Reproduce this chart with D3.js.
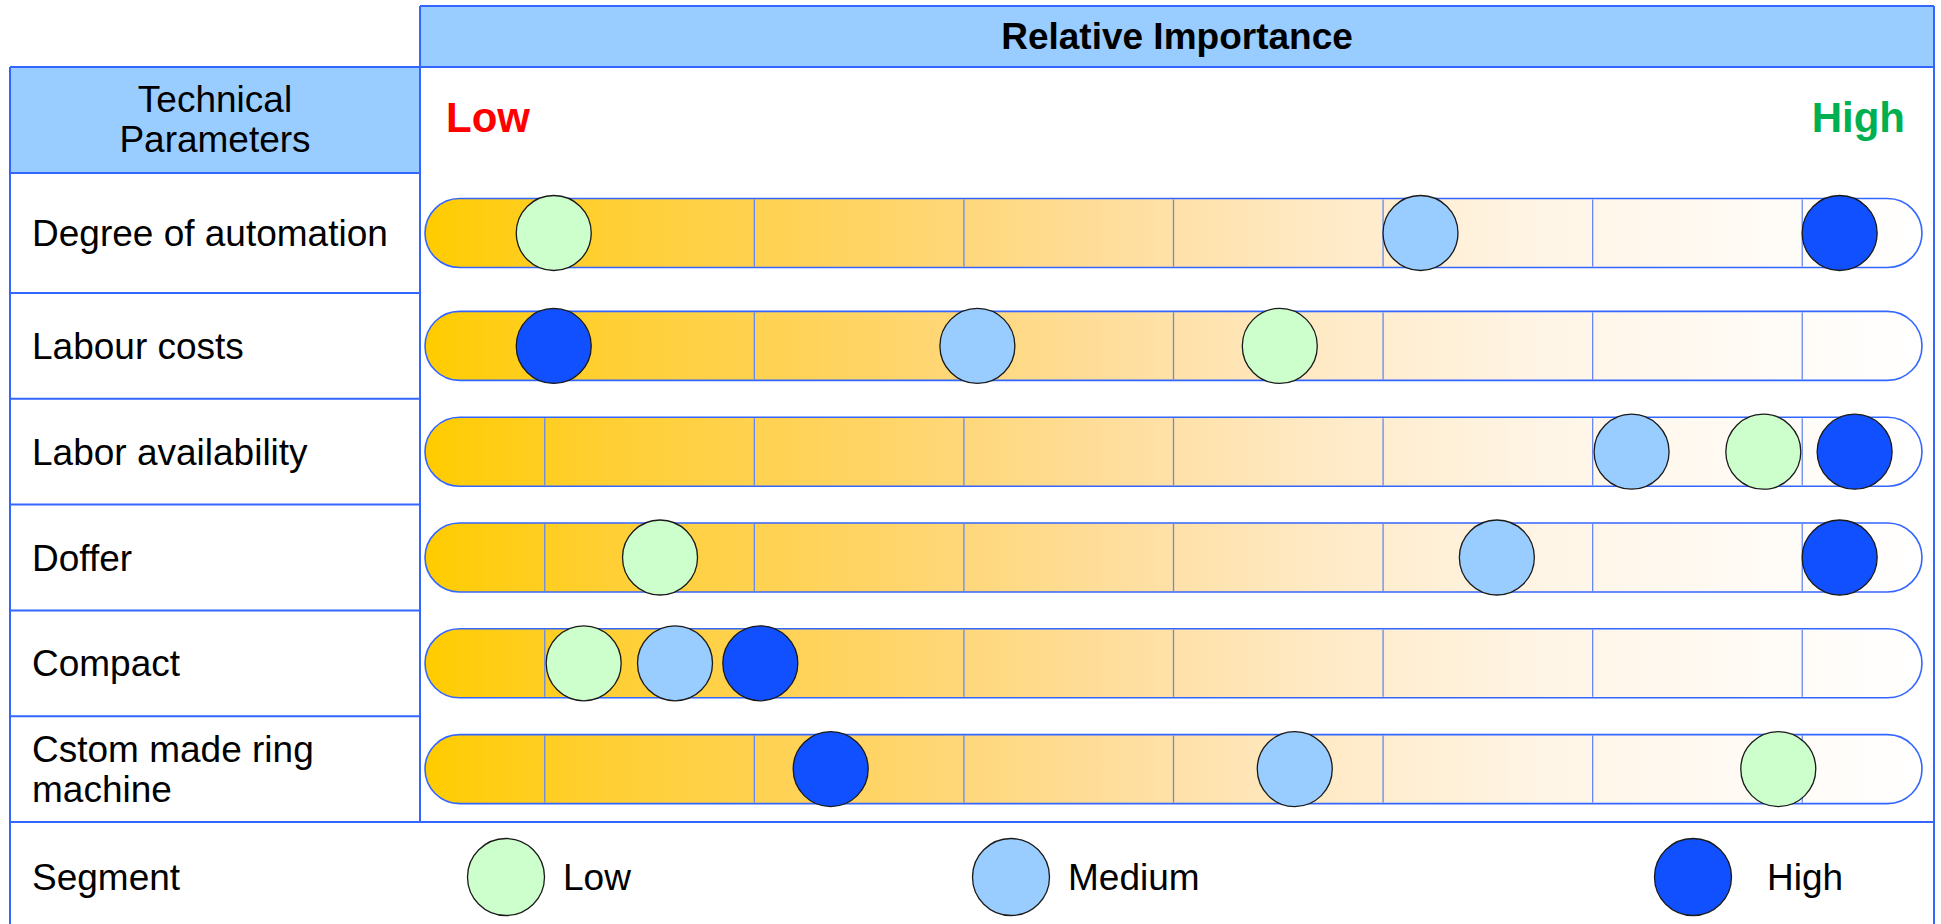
<!DOCTYPE html>
<html>
<head>
<meta charset="utf-8">
<script src="https://cdn.jsdelivr.net/npm/d3@7"></script>
<style>
  html, body { margin: 0; padding: 0; background: #ffffff; }
  svg { display: block; }
  text { font-family: "Liberation Sans", Arial, sans-serif; }
</style>
</head>
<body>
<svg id="chart" width="1941" height="924"></svg>
<script>
// Technical parameters (one row each)
const parameters = [
  "Degree of automation",
  "Labour costs",
  "Labor availability",
  "Doffer",
  "Compact",
  "Cstom made ring machine"
];

// Relative importance (0 = low, 100 = high) of each parameter per segment
const lowSegment    = [8.6, 57.1, 89.4, 15.7, 10.6, 90.4];
const mediumSegment = [66.5, 36.9, 80.6, 71.6, 16.7, 58.1];
const highSegment   = [94.5, 8.6, 95.5, 94.5, 22.4, 27.1];

// Segment names and their marker colours
const segmentNames  = ["Low", "Medium", "High"];
const segmentColors = ["#ccffcc", "#99ccff", "#1150ff"];

// Positions of the divider ticks along the importance scale
const dividerTicks = [8, 22, 36, 50, 64, 78, 92];

// ---- layout ----
const W = 1941, H = 924;
const tableLeft = 10, tableRight = 1934, splitX = 420;
const headTop = 6, headBottom = 67, colHeadBottom = 173;
const firstRowH = 120, rowH = 105.8;
const legendTop = colHeadBottom + firstRowH + rowH * (parameters.length - 1);
const capsuleH = 69, markerR = 37.5;
const border = "#3366ff";
const headFill = "#99ccff";
const bodyFont = 37;

const svg = d3.select("#chart");

// Row boundaries
const rowTops = parameters.map((p, i) => i === 0 ? colHeadBottom : colHeadBottom + firstRowH + rowH * (i - 1));
const rowBottoms = parameters.map((p, i) => rowTops[i] + (i === 0 ? firstRowH : rowH));
const rowCenter = i => (rowTops[i] + rowBottoms[i]) / 2;

// Importance scale
const x = d3.scaleLinear().domain([0, 100]).range([425, 1922]);

// Gradient for the capsules: gold on the low end fading to white
const defs = svg.append("defs");
const grad = defs.append("linearGradient").attr("id", "importanceGrad")
  .attr("x1", "0%").attr("x2", "100%").attr("y1", "0%").attr("y2", "0%");
[
  [0, "#ffcc00"], [0.12, "#ffcf33"], [0.3, "#ffd466"], [0.45, "#ffdd99"],
  [0.6, "#ffeac6"], [0.75, "#fff5e6"], [0.9, "#fffbf6"], [1, "#ffffff"]
].forEach(([o, c]) => grad.append("stop").attr("offset", o).attr("stop-color", c));

// ---- table backgrounds ----
svg.append("rect").attr("x", splitX).attr("y", headTop)
  .attr("width", tableRight - splitX).attr("height", headBottom - headTop)
  .attr("fill", headFill);
svg.append("rect").attr("x", tableLeft).attr("y", headBottom)
  .attr("width", splitX - tableLeft).attr("height", colHeadBottom - headBottom)
  .attr("fill", headFill);

// ---- table grid lines ----
const lines = [
  [splitX, headTop, tableRight, headTop],
  [tableLeft, headBottom, tableRight, headBottom],
  [tableRight, headTop, tableRight, H + 5],
  [tableLeft, headBottom, tableLeft, H + 5],
  [splitX, headTop, splitX, legendTop],
  [tableLeft, legendTop, tableRight, legendTop],
  [tableLeft, colHeadBottom, splitX, colHeadBottom]
];
rowBottoms.slice(0, -1).forEach(b => lines.push([tableLeft, b, splitX, b]));
svg.append("g").selectAll("line").data(lines).join("line")
  .attr("x1", d => d[0]).attr("y1", d => d[1])
  .attr("x2", d => d[2]).attr("y2", d => d[3])
  .attr("stroke", border).attr("stroke-width", 2);

// ---- header texts ----
svg.append("text").attr("x", (splitX + tableRight) / 2).attr("y", 49)
  .attr("text-anchor", "middle").attr("font-size", 37).attr("font-weight", "bold")
  .attr("fill", "#000").text("Relative Importance");

svg.append("text").attr("x", (tableLeft + splitX) / 2).attr("y", 112)
  .attr("text-anchor", "middle").attr("font-size", bodyFont).attr("fill", "#000")
  .selectAll("tspan").data(["Technical", "Parameters"]).join("tspan")
  .attr("x", (tableLeft + splitX) / 2).attr("dy", (d, i) => i === 0 ? 0 : 40).text(d => d);

svg.append("text").attr("x", 446).attr("y", 132)
  .attr("font-size", 42).attr("font-weight", "bold").attr("fill", "#ff0000").text("Low");
svg.append("text").attr("x", 1905).attr("y", 132).attr("text-anchor", "end")
  .attr("font-size", 42).attr("font-weight", "bold").attr("fill", "#00b050").text("High");

// ---- row labels (wrapped to the column width) ----
const labelX = 32, labelMaxW = 380;
parameters.forEach((name, i) => {
  const t = svg.append("text").attr("x", labelX).attr("font-size", bodyFont).attr("fill", "#000");
  const words = name.split(" ");
  const linesOut = [];
  let cur = [];
  words.forEach(w => {
    const trial = cur.concat(w).join(" ");
    t.text(trial);
    if (t.node().getComputedTextLength() > labelMaxW && cur.length) {
      linesOut.push(cur.join(" "));
      cur = [w];
    } else cur.push(w);
  });
  linesOut.push(cur.join(" "));
  t.text(null);
  const base = rowCenter(i) + 13 - (linesOut.length - 1) * 20;
  t.attr("y", base);
  t.selectAll("tspan").data(linesOut).join("tspan")
    .attr("x", labelX).attr("dy", (d, k) => k === 0 ? 0 : 40).text(d => d);
});

// ---- capsules ----
const capsules = svg.append("g");
parameters.forEach((name, i) => {
  const cy = rowCenter(i);
  const g = capsules.append("g");
  g.append("rect")
    .attr("x", x(0)).attr("y", cy - capsuleH / 2)
    .attr("width", x(100) - x(0)).attr("height", capsuleH)
    .attr("rx", capsuleH / 2).attr("ry", capsuleH / 2)
    .attr("fill", "url(#importanceGrad)");
  g.selectAll("line").data(dividerTicks).join("line")
    .attr("x1", d => x(d)).attr("x2", d => x(d))
    .attr("y1", cy - capsuleH / 2 + 1).attr("y2", cy + capsuleH / 2 - 1)
    .attr("stroke", "#6688f0").attr("stroke-width", 1.3);
  g.append("rect")
    .attr("x", x(0)).attr("y", cy - capsuleH / 2)
    .attr("width", x(100) - x(0)).attr("height", capsuleH)
    .attr("rx", capsuleH / 2).attr("ry", capsuleH / 2)
    .attr("fill", "none").attr("stroke", border).attr("stroke-width", 1.6);
});

// ---- segment markers ----
const series = [lowSegment, mediumSegment, highSegment];
const markers = [];
series.forEach((vals, s) => vals.forEach((v, i) => markers.push({ s, i, v })));
svg.append("g").selectAll("circle").data(markers).join("circle")
  .attr("cx", d => x(d.v)).attr("cy", d => rowCenter(d.i))
  .attr("r", markerR)
  .attr("fill", d => segmentColors[d.s])
  .attr("stroke", "#1a1a1a").attr("stroke-width", 1.3);

// ---- legend ----
const legendY = (legendTop + H) / 2 + 4;
svg.append("text").attr("x", labelX).attr("y", legendY + 13)
  .attr("font-size", bodyFont).attr("fill", "#000").text("Segment");
const legendX = [506, 1011, 1693];
const legend = svg.append("g").selectAll("g").data(segmentNames).join("g");
legend.append("circle")
  .attr("cx", (d, k) => legendX[k]).attr("cy", legendY).attr("r", 38.5)
  .attr("fill", (d, k) => segmentColors[k])
  .attr("stroke", "#1a1a1a").attr("stroke-width", 1.3);
legend.append("text")
  .attr("x", (d, k) => legendX[k] + (k === 2 ? 74 : 57)).attr("y", legendY + 13)
  .attr("font-size", bodyFont).attr("fill", "#000").text(d => d);
</script>
</body>
</html>
